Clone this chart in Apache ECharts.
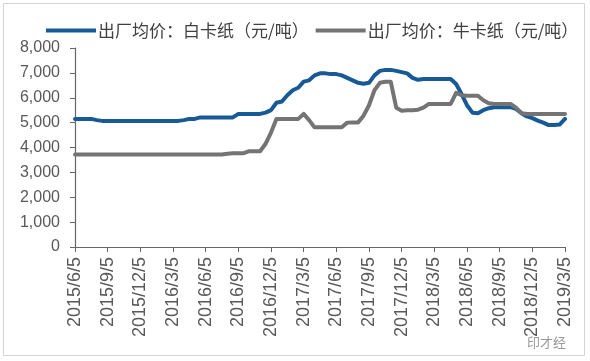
<!DOCTYPE html>
<html>
<head>
<meta charset="utf-8">
<script src="https://cdn.jsdelivr.net/npm/echarts@6/dist/echarts.min.js"></script>
<style>html,body{margin:0;padding:0;background:#fff}#c{width:590px;height:361px}</style>
</head>
<body>
<div id="c"></div>
<script>
var categories = [
"2015/6/5","2015/6/20","2015/7/5","2015/7/20","2015/8/5","2015/8/20","2015/9/5","2015/9/20","2015/10/5","2015/10/20","2015/11/5","2015/11/20","2015/12/5","2015/12/20",
"2016/1/5","2016/1/20","2016/2/5","2016/2/20","2016/3/5","2016/3/20","2016/4/5","2016/4/20","2016/5/5","2016/5/20","2016/6/5","2016/6/20","2016/7/5","2016/7/20","2016/8/5","2016/8/20","2016/9/5","2016/9/20","2016/10/5","2016/10/20","2016/11/5","2016/11/20","2016/12/5","2016/12/20",
"2017/1/5","2017/1/20","2017/2/5","2017/2/20","2017/3/5","2017/3/20","2017/4/5","2017/4/20","2017/5/5","2017/5/20","2017/6/5","2017/6/20","2017/7/5","2017/7/20","2017/8/5","2017/8/20","2017/9/5","2017/9/20","2017/10/5","2017/10/20","2017/11/5","2017/11/20","2017/12/5","2017/12/20",
"2018/1/5","2018/1/20","2018/2/5","2018/2/20","2018/3/5","2018/3/20","2018/4/5","2018/4/20","2018/5/5","2018/5/20","2018/6/5","2018/6/20","2018/7/5","2018/7/20","2018/8/5","2018/8/20","2018/9/5","2018/9/20","2018/10/5","2018/10/20","2018/11/5","2018/11/20","2018/12/5","2018/12/20",
"2019/1/5","2019/1/20","2019/2/5","2019/2/20","2019/3/5"
];
var tickLabels = ["2015/6/5","2015/9/5","2015/12/5","2016/3/5","2016/6/5","2016/9/5","2016/12/5","2017/3/5","2017/6/5","2017/9/5","2017/12/5","2018/3/5","2018/6/5","2018/9/5","2018/12/5","2019/3/5"];
var seriesNames = ["出厂均价：白卡纸（元/吨）", "出厂均价：牛卡纸（元/吨）"];
var whiteCard = [
5150,5150,5150,5150,5100,
5070,5070,5070,5070,5070,5070,5070,5070,5070,5070,5070,5070,5070,5070,5070,
5100,5150,5150,
5210,5210,5210,5210,5210,5210,5210,
5350,5350,5350,5350,5350,
5400,5500,5800,5850,6100,6300,6400,6650,6700,6900,
6980,6980,6950,6950,6900,6800,6700,6600,6560,6600,
6900,7080,7120,7120,7080,7030,6980,6800,6720,6750,
6750,6750,6750,6750,6750,
6550,6150,5700,5400,5380,5500,5580,5620,5620,5620,5620,
5550,5380,5250,5180,5080,5000,4900,4900,4920,5150
];
var kraft = [
3720,3720,3720,3720,3720,3720,3720,3720,3720,3720,3720,3720,3720,3720,
3720,3720,3720,3720,3720,3720,3720,3720,3720,3720,3720,3720,3720,3720,
3750,3770,3770,3770,3850,3850,3850,
4150,4600,5150,5150,5150,5150,5150,5350,5100,4810,
4810,4810,4810,4810,4810,5000,5010,5010,5280,5700,
6300,6600,6640,6640,5600,5480,5500,5500,5520,5600,
5750,5750,5750,5750,5750,
6200,6100,6080,6080,6080,5900,5780,5750,5750,5750,5750,
5600,5380,5350,5350,5350,5350,5350,5350,5350,5350
];
var yMax = 8000, yStep = 1000;

var chart = echarts.init(document.getElementById('c'), null, {renderer: 'canvas'});
var axisColor = '#666666';
var labelColor = '#595959';
function showTick(i, v) { return tickLabels.indexOf(categories[i]) >= 0; }
chart.setOption({
  animation: false,
  backgroundColor: '#ffffff',
  graphic: [
    {type: 'rect', shape: {x: 3.5, y: 3.5, width: 581, height: 352}, style: {fill: 'none', stroke: '#d4d4d4', lineWidth: 1}, silent: true},
    {type: 'text', left: 527, top: 336, style: {text: '印才经', fill: '#9a9a9a', font: '13px "Noto Sans CJK SC"'}, silent: true}
  ],
  legend: {
    left: 41, top: 17,
    itemWidth: 50, itemHeight: 4, itemGap: 7,
    icon: 'rect',
    textStyle: {fontSize: 17, color: '#404040', fontFamily: '"Noto Sans CJK SC"', padding: [0, 0, 0, -3]},
    data: seriesNames
  },
  grid: {left: 75, right: 25, top: 48, bottom: 114, containLabel: false},
  xAxis: {
    type: 'category',
    data: categories,
    boundaryGap: false,
    axisLine: {lineStyle: {color: axisColor, width: 1.2}},
    axisTick: {interval: showTick, length: 5, lineStyle: {color: axisColor}},
    axisLabel: {interval: showTick, rotate: 90, margin: 10, fontSize: 18, color: labelColor, fontFamily: '"Liberation Sans", Arial'},
    splitLine: {show: false}
  },
  yAxis: {
    type: 'value',
    min: 0, max: yMax, interval: yStep,
    axisLine: {show: true, lineStyle: {color: axisColor, width: 1.2}},
    axisTick: {show: true, length: 5, lineStyle: {color: axisColor}},
    axisLabel: {margin: 15, fontSize: 16, color: labelColor, fontFamily: '"Liberation Sans", Arial',
      formatter: function (v) { return v.toLocaleString('en-US'); }},
    splitLine: {show: false}
  },
  series: [
    {name: seriesNames[0], type: 'line', data: whiteCard, showSymbol: false, symbol: 'none',
     lineStyle: {color: '#175A96', width: 4, join: 'round', cap: 'round'}, itemStyle: {color: '#175A96'}},
    {name: seriesNames[1], type: 'line', data: kraft, showSymbol: false, symbol: 'none',
     lineStyle: {color: '#747474', width: 4, join: 'round', cap: 'round'}, itemStyle: {color: '#747474'}}
  ]
});
</script>
</body>
</html>
